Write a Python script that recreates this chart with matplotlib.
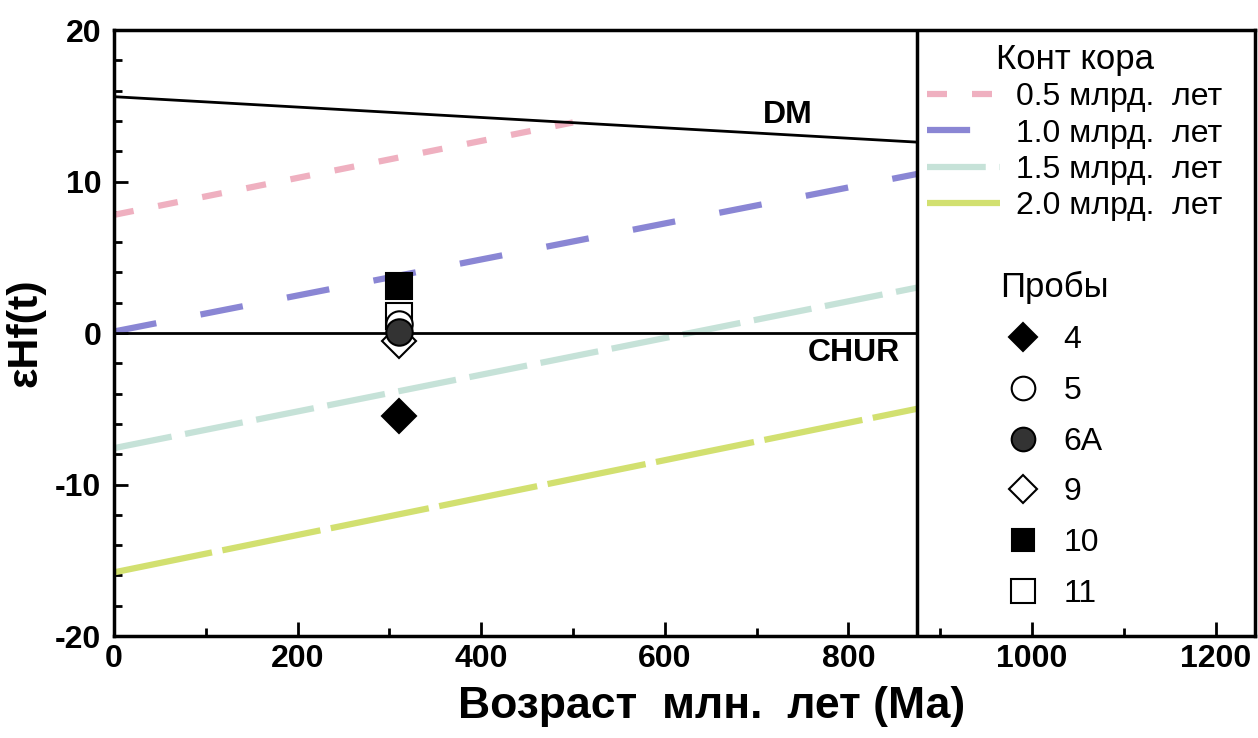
import numpy as np
import matplotlib.pyplot as plt
from matplotlib.lines import Line2D

plt.rcParams['font.family'] = ['Liberation Sans', 'DejaVu Sans']
plt.rcParams['axes.unicode_minus'] = False

# ---------------------------------------------------------------------------
# Data
# ---------------------------------------------------------------------------
age_line = [0, 875]
dm_eps = [15.6, 12.6]
chur_eps = [0.0, 0.0]

crust_05_age = [0, 500]
crust_05_eps = [7.8, 13.9]
crust_10_eps = [0.1, 10.5]
crust_15_eps = [-7.6, 3.0]
crust_20_eps = [-15.8, -5.0]

crust_labels = ["0.5 млрд.  лет", "1.0 млрд.  лет", "1.5 млрд.  лет", "2.0 млрд.  лет"]

sample_names = ["4", "5", "6A", "9", "10", "11"]
sample_age = [310, 310, 310, 310, 310, 310]
sample_eps = [-5.5, 0.6, 0.1, -0.55, 3.1, 1.1]

# ---------------------------------------------------------------------------
# Styles
# ---------------------------------------------------------------------------
color_05 = '#efb0c0'
color_10 = '#8a86d4'
color_15 = '#c6e2d8'
color_20 = '#d2e070'
lw_crust = 4.5

sample_style = {
    "4":  dict(marker='D', mfc='black', mec='black'),
    "5":  dict(marker='o', mfc='white', mec='black'),
    "6A": dict(marker='o', mfc='#333333', mec='black'),
    "9":  dict(marker='D', mfc='white', mec='black'),
    "10": dict(marker='s', mfc='black', mec='black'),
    "11": dict(marker='s', mfc='white', mec='black'),
}
plot_ms = {"4": 17, "5": 19, "6A": 19, "9": 17, "10": 19, "11": 19}
legend_ms = {"4": 14, "5": 17, "6A": 17, "9": 14, "10": 16, "11": 17}
draw_order = ["9", "11", "5", "6A", "10", "4"]

fig = plt.figure(figsize=(12.58, 7.38), dpi=100)
ax = fig.add_axes([0.0906, 0.1382, 0.9070, 0.8211])

# reference lines
ax.plot(age_line, dm_eps, color='black', lw=2.0, zorder=3)
ax.plot(age_line, chur_eps, color='black', lw=2.0, zorder=3)

# crustal evolution lines
crust_handles = []
h, = ax.plot(crust_05_age, crust_05_eps, color=color_05, lw=lw_crust, linestyle=(0, (3.2, 4.0)))
crust_handles.append(h)
h, = ax.plot(age_line, crust_10_eps, color=color_10, lw=lw_crust, linestyle=(0, (6.9, 7.2)))
crust_handles.append(h)
h, = ax.plot(age_line, crust_15_eps, color=color_15, lw=lw_crust, linestyle=(0, (9.4, 2.2)))
crust_handles.append(h)
h, = ax.plot(age_line, crust_20_eps, color=color_20, lw=lw_crust, linestyle=(0, (16, 1.7)))
crust_handles.append(h)

# samples
for z, name in enumerate(draw_order):
    i = sample_names.index(name)
    ax.plot(sample_age[i], sample_eps[i], linestyle='none', mew=1.5,
            ms=plot_ms[name], zorder=5 + z, **sample_style[name])

ax.text(734, 14.4, "DM", fontsize=23, fontweight='bold', ha='center', va='center')
ax.text(806, -1.3, "CHUR", fontsize=23, fontweight='bold', ha='center', va='center')

# boundary of the legend panel
ax.axvline(875, color='black', lw=2.5, zorder=4)

ax.set_xlim(0, 1243)
ax.set_ylim(-20, 20)
ax.set_xticks(np.arange(0, 1201, 200))
ax.set_xticks(np.arange(100, 1201, 200), minor=True)
ax.set_yticks([-20, -10, 0, 10, 20])
ax.set_yticks(np.arange(-18, 19, 2), minor=True)
ax.tick_params(which='both', direction='in', width=2, labelsize=23)
ax.tick_params(which='major', length=10)
ax.tick_params(which='minor', length=6)
ax.tick_params(axis='y', pad=9)
ax.tick_params(axis='x', pad=6)
for lab in ax.get_xticklabels() + ax.get_yticklabels():
    lab.set_fontweight('bold')
for sp in ax.spines.values():
    sp.set_linewidth(2.5)

ax.set_xlabel("Возраст  млн.  лет (Ма)", fontsize=32, fontweight='bold')
ax.xaxis.set_label_coords(0.524, -0.083)
ax.set_ylabel("εHf(t)", fontsize=31, fontweight='bold')
ax.yaxis.set_label_coords(-0.060, 0.5)

# legends
leg1 = ax.legend(crust_handles, crust_labels, title="Конт кора", loc='upper left',
                 bbox_to_anchor=(0.7125, 0.979), frameon=False, fontsize=23,
                 title_fontsize=25, handlelength=2.3, handletextpad=0.5,
                 labelspacing=0.2, borderpad=0, borderaxespad=0)
ax.add_artist(leg1)

sample_handles = [Line2D([], [], linestyle='none', mew=1.5, ms=legend_ms[n], **sample_style[n])
                  for n in sample_names]
leg2 = ax.legend(sample_handles, sample_names, title="Пробы", loc='upper left',
                 bbox_to_anchor=(0.7765, 0.602), frameon=False, fontsize=23,
                 title_fontsize=25, handlelength=1.1, handletextpad=0.7,
                 labelspacing=0.65, borderpad=0, borderaxespad=0)

fig.savefig("out.png", dpi=100)
